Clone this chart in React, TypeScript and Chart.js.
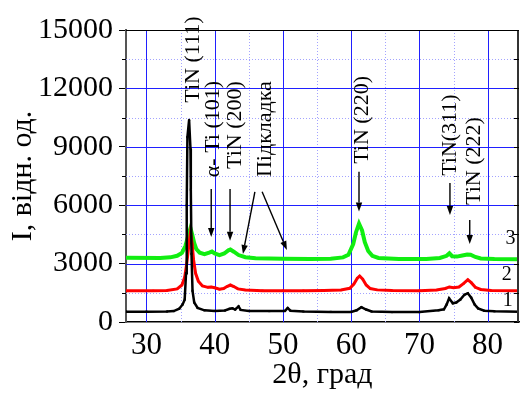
import React, { useEffect, useRef } from "react";
import { Chart, registerables } from "chart.js";

Chart.register(...registerables);

const FONT = "'Liberation Serif', 'Times New Roman', 'DejaVu Serif', serif";

// Axis ticks
const xTicks = [30, 40, 50, 60, 70, 80];
const xMinor = [35, 45, 55, 65, 75];
const yTicks = [0, 3000, 6000, 9000, 12000, 15000];
const yMinor = [1500, 4500, 7500, 10500, 13500];

// Curve 1 (black)
const x1 = [27, 30, 33, 34.0, 34.8, 35.3, 35.6, 35.8, 35.9, 36.0, 36.25, 36.45, 36.5, 36.6, 36.75, 37.0, 37.5, 38.5, 40, 41.5, 42.2, 42.6, 43.0, 43.5, 43.8, 45, 48, 50.3, 50.7, 51.1, 53, 57, 60, 60.8, 61.5, 62.2, 63, 66, 70, 72.8, 73.6, 74.0, 74.35, 74.9, 75.4, 76.0, 76.6, 77.1, 77.6, 78.1, 78.6, 79.5, 81, 84.6];
const y1 = [530, 530, 540, 560, 680, 900, 1150, 2500, 6000, 9500, 10380, 8900, 6800, 3500, 1600, 1000, 720, 600, 570, 590, 680, 700, 640, 800, 620, 570, 560, 570, 720, 580, 540, 520, 520, 600, 760, 640, 540, 510, 510, 600, 650, 900, 1220, 960, 1000, 1150, 1400, 1480, 1250, 900, 700, 580, 550, 530];

// Curve 2 (red)
const x2 = [27, 31, 33, 34.5, 35.2, 35.6, 35.9, 36.2, 36.45, 36.7, 36.9, 37.2, 37.6, 38.2, 39.0, 39.5, 40.0, 40.7, 41.3, 41.8, 42.3, 42.8, 43.4, 44.5, 47, 50, 53, 56, 58.5, 59.8, 60.4, 60.9, 61.25, 61.7, 62.2, 62.8, 63.8, 66, 70, 72.5, 73.8, 74.4, 75.0, 75.8, 76.5, 77.1, 77.6, 78.2, 79, 80.5, 84.6];
const y2 = [1600, 1600, 1620, 1700, 1900, 2300, 3000, 3900, 4600, 4000, 3200, 2500, 2100, 1850, 1780, 1800, 1760, 1680, 1720, 1820, 1900, 1820, 1700, 1640, 1610, 1610, 1610, 1620, 1640, 1730, 1950, 2250, 2360, 2200, 1900, 1720, 1650, 1620, 1610, 1640, 1720, 1800, 1760, 1800, 1980, 2170, 2020, 1780, 1670, 1620, 1600];

// Curve 3 (green)
const x3 = [27, 32, 33.5, 34.5, 35.2, 35.7, 36.1, 36.45, 36.7, 37.0, 37.3, 37.8, 38.5, 39.2, 39.6, 40.0, 40.7, 41.4, 42.0, 42.3, 42.8, 43.5, 44.5, 46, 50, 54, 57, 58.8, 59.6, 60.3, 60.7, 61.15, 61.6, 62.0, 62.5, 63.1, 64, 67, 71, 73, 74.0, 74.4, 74.8, 75.5, 76.3, 77.0, 77.5, 78.2, 79, 81, 84.6];
const y3 = [3300, 3290, 3320, 3400, 3550, 3900, 4400, 4820, 4500, 4050, 3750, 3560, 3480, 3560, 3620, 3520, 3440, 3520, 3680, 3720, 3610, 3440, 3330, 3280, 3250, 3240, 3250, 3320, 3450, 4000, 4600, 5050, 4700, 4100, 3650, 3400, 3290, 3240, 3240, 3290, 3400, 3530, 3380, 3360, 3420, 3470, 3460, 3340, 3260, 3230, 3220];

// Peak labels (rotated text), centred at data coordinates
const peakTexts = ["TiN (111)", "α- Ti (101)", "TiN (200)", "Підкладка", "TiN (220)", "TiN(311)", "TiN (222)"];
const peakTextX = [36.8, 39.85, 43.05, 47.4, 61.6, 74.45, 78.0];
const peakTextY = [13480, 9910, 10120, 9910, 10380, 9600, 8270];

// Arrows [x from, y from, x to, y to] in data coordinates
const arrowX0 = [39.49, 42.25, 45.89, 46.95, 61.15, 74.48, 77.38];
const arrowY0 = [6830, 6830, 6690, 6690, 7720, 7140, 5240];
const arrowX1 = [39.49, 42.25, 44.14, 50.58, 61.15, 74.48, 77.38];
const arrowY1 = [4370, 4180, 3490, 3700, 5670, 5500, 4010];

// Curve numbers
const curveNames = ["1", "2", "3"];
const curveNameX = [82.95, 82.8, 83.35];
const curveNameY = [1080, 2410, 4260];

const toPts = (xs: number[], ys: number[]) => xs.map((v, i) => ({ x: v, y: ys[i] }));

const xrdPlugin = {
  id: "xrdDecor",
  beforeDatasetsDraw(chart: any) {
    const { ctx, chartArea, scales } = chart;
    const { left, right, top, bottom } = chartArea;
    const xs = scales.x;
    const ys = scales.y;
    const line = (a: number, b: number, c: number, d: number) => {
      ctx.beginPath();
      ctx.moveTo(a, b);
      ctx.lineTo(c, d);
      ctx.stroke();
    };
    ctx.save();
    ctx.lineWidth = 1;
    ctx.strokeStyle = "#a3a3ff";
    ctx.setLineDash([1, 2]);
    for (const v of xMinor) {
      const p = Math.round(xs.getPixelForValue(v)) + 0.5;
      line(p, top, p, bottom);
    }
    for (const v of yMinor) {
      const p = Math.round(ys.getPixelForValue(v)) + 0.5;
      line(left, p, right, p);
    }
    ctx.setLineDash([]);
    ctx.strokeStyle = "#2020ff";
    for (const v of xTicks) {
      const p = Math.round(xs.getPixelForValue(v)) + 0.5;
      line(p, top, p, bottom);
    }
    for (const v of yTicks) {
      if (v <= 0 || v >= 15000) continue;
      const p = Math.round(ys.getPixelForValue(v)) + 0.5;
      line(left, p, right, p);
    }
    ctx.restore();
  },
  afterDatasetsDraw(chart: any) {
    const { ctx, chartArea, scales } = chart;
    const { left, right, top, bottom } = chartArea;
    const xs = scales.x;
    const ys = scales.y;
    ctx.save();
    // frame: top and right
    ctx.strokeStyle = "#000";
    ctx.lineWidth = 1;
    ctx.beginPath();
    ctx.moveTo(left, top + 0.5);
    ctx.lineTo(right, top + 0.5);
    ctx.stroke();
    ctx.lineWidth = 2;
    ctx.strokeStyle = "#333";
    ctx.beginPath();
    ctx.moveTo(right - 1, top);
    ctx.lineTo(right - 1, bottom);
    ctx.stroke();
    // right inward ticks and left minor ticks
    ctx.lineWidth = 1;
    ctx.strokeStyle = "#000";
    for (const v of [...yTicks, ...yMinor]) {
      const p = Math.round(ys.getPixelForValue(v)) + 0.5;
      ctx.beginPath();
      ctx.moveTo(right - 5, p);
      ctx.lineTo(right, p);
      ctx.stroke();
    }
    for (const v of yMinor) {
      const p = Math.round(ys.getPixelForValue(v)) + 0.5;
      ctx.beginPath();
      ctx.moveTo(left - 4, p);
      ctx.lineTo(left, p);
      ctx.stroke();
    }
    // arrows
    ctx.strokeStyle = "#000";
    ctx.fillStyle = "#000";
    ctx.lineWidth = 1.4;
    for (let i = 0; i < arrowX0.length; i++) {
      const ax = xs.getPixelForValue(arrowX0[i]);
      const ay = ys.getPixelForValue(arrowY0[i]);
      const bx = xs.getPixelForValue(arrowX1[i]);
      const by = ys.getPixelForValue(arrowY1[i]);
      const ang = Math.atan2(by - ay, bx - ax);
      const hl = 9;
      const hw = 3.2;
      const cx = bx - hl * Math.cos(ang);
      const cy = by - hl * Math.sin(ang);
      ctx.beginPath();
      ctx.moveTo(ax, ay);
      ctx.lineTo(cx, cy);
      ctx.stroke();
      ctx.beginPath();
      ctx.moveTo(bx, by);
      ctx.lineTo(cx + hw * Math.sin(ang), cy - hw * Math.cos(ang));
      ctx.lineTo(cx - hw * Math.sin(ang), cy + hw * Math.cos(ang));
      ctx.closePath();
      ctx.fill();
    }
    // rotated labels
    ctx.font = `22px ${FONT}`;
    ctx.textAlign = "center";
    ctx.textBaseline = "middle";
    for (let i = 0; i < peakTexts.length; i++) {
      const px = xs.getPixelForValue(peakTextX[i]);
      const py = ys.getPixelForValue(peakTextY[i]);
      ctx.save();
      ctx.translate(px, py);
      ctx.rotate(-Math.PI / 2);
      ctx.fillText(peakTexts[i], 0, 0);
      ctx.restore();
    }
    // curve numbers
    ctx.font = `20px ${FONT}`;
    for (let i = 0; i < curveNames.length; i++) {
      ctx.fillText(curveNames[i], xs.getPixelForValue(curveNameX[i]), ys.getPixelForValue(curveNameY[i]));
    }
    ctx.restore();
  },
};

export default function App() {
  const ref = useRef<HTMLCanvasElement | null>(null);
  useEffect(() => {
    if (!ref.current) return;
    const chart = new Chart(ref.current, {
      type: "line",
      data: {
        datasets: [
          {
            data: toPts(x1, y1),
            borderColor: "#000000",
            backgroundColor: "#000000",
            borderWidth: 2.5,
            pointRadius: 1.5,
            pointStyle: "rect",
            pointBorderWidth: 0,
            tension: 0,
          },
          {
            data: toPts(x2, y2),
            borderColor: "#ff0000",
            backgroundColor: "#ff0000",
            borderWidth: 3,
            pointRadius: 1.5,
            pointStyle: "rect",
            pointBorderWidth: 0,
            tension: 0,
          },
          {
            data: toPts(x3, y3),
            borderColor: "#11ee11",
            backgroundColor: "#11ee11",
            borderWidth: 4,
            pointRadius: 0,
            tension: 0,
          },
        ],
      },
      options: {
        animation: false,
        responsive: false,
        events: [],
        layout: { padding: { top: 30, right: 1, left: 0, bottom: 0 } },
        plugins: { legend: { display: false }, tooltip: { enabled: false } },
        scales: {
          x: {
            type: "linear",
            min: 27,
            max: 84.6,
            afterBuildTicks: (s: any) => {
              s.ticks = xTicks.map((v) => ({ value: v }));
            },
            afterFit: (s: any) => {
              s.height = 74;
              s.paddingLeft = 0;
              s.paddingRight = 0;
              s.paddingTop = 0;
              s.paddingBottom = 0;
            },
            grid: { drawOnChartArea: false, drawTicks: false },
            border: { display: true, color: "#000", width: 1.5 },
            ticks: {
              color: "#000",
              padding: 5,
              maxRotation: 0,
              callback: (v: any) => String(v),
              font: { family: FONT, size: 31, lineHeight: 1.2 },
            },
            title: {
              display: true,
              text: "2θ, град",
              color: "#000",
              padding: { top: 0, bottom: 3 },
              font: { family: FONT, size: 30, lineHeight: 1.2 },
            },
          },
          y: {
            type: "linear",
            min: 0,
            max: 15000,
            afterBuildTicks: (s: any) => {
              s.ticks = yTicks.map((v) => ({ value: v }));
            },
            afterFit: (s: any) => {
              s.width = 126;
              s.paddingLeft = 0;
              s.paddingRight = 0;
              s.paddingTop = 0;
              s.paddingBottom = 0;
            },
            grid: { drawOnChartArea: false, drawTicks: true, tickLength: 7, tickColor: "#000", tickWidth: 1 },
            border: { display: true, color: "#555", width: 2 },
            ticks: {
              color: "#000",
              padding: 6,
              callback: (v: any) => String(v),
              font: { family: FONT, size: 30, lineHeight: 1.2 },
            },
            title: {
              display: true,
              text: "I, відн. од.",
              color: "#000",
              padding: { top: 5, bottom: 0 },
              font: { family: FONT, size: 30, lineHeight: 1.2 },
            },
          },
        },
      },
      plugins: [xrdPlugin],
    });
    return () => chart.destroy();
  }, []);
  return (
    <div style={{ position: "absolute", left: 0, top: 0, width: 523, height: 396 }}>
      <canvas ref={ref} width={523} height={396} style={{ display: "block" }} />
    </div>
  );
}
